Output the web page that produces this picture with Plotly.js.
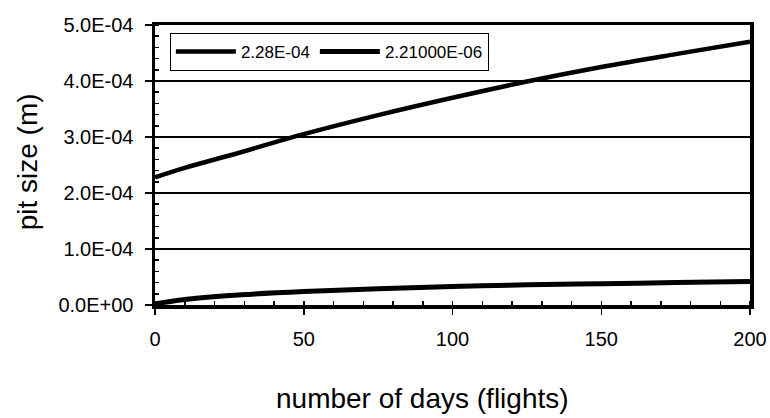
<!DOCTYPE html>
<html><head><meta charset="utf-8">
<script src="https://cdn.plot.ly/plotly-3.0.1.min.js"></script>
<style>html,body{margin:0;padding:0;background:#fff}</style>
</head><body>
<div id="chart" style="width:770px;height:418px"></div>
<script>
const days = [0, 10, 25, 50, 75, 100, 125, 150, 175, 200];
const pitUpper = [2.28e-4, 2.45e-4, 2.67e-4, 3.05e-4, 3.39e-4, 3.70e-4, 3.99e-4, 4.25e-4, 4.48e-4, 4.70e-4];
const pitLower = [2.21e-6, 1.00e-5, 1.70e-5, 2.40e-5, 2.90e-5, 3.30e-5, 3.60e-5, 3.80e-5, 4.00e-5, 4.20e-5];
const seriesNames = ["2.28E-04", "2.21000E-06"];
const yTickVals = [0, 1e-4, 2e-4, 3e-4, 4e-4, 5e-4];
const yTickText = ["0.0E+00", "1.0E-04", "2.0E-04", "3.0E-04", "4.0E-04", "5.0E-04"];
const xTickVals = [0, 50, 100, 150, 200];
const xTitle = "number of days (flights)";
const yTitle = "pit size (m)";

const font = "Liberation Sans, Arial, sans-serif";
const traces = [
  {x: days, y: pitUpper, name: seriesNames[0], mode: "lines", line: {color: "#000", width: 4.5, shape: "spline"}},
  {x: days, y: pitLower, name: seriesNames[1], mode: "lines", line: {color: "#000", width: 5, shape: "spline"}}
];
const layout = {
  width: 770, height: 418,
  margin: {l: 155, r: 20, t: 25, b: 113},
  paper_bgcolor: "#fff", plot_bgcolor: "#fff",
  font: {family: font, color: "#000"},
  showlegend: true,
  legend: {orientation: "h", x: 0.025, y: 0.972, xanchor: "left", yanchor: "top",
    bordercolor: "#000", borderwidth: 1, bgcolor: "#fff", font: {size: 17, family: font},
    itemwidth: 60, traceorder: "normal"},
  xaxis: {range: [0, 200], tickvals: xTickVals, ticks: "outside", ticklen: 6, tickwidth: 1.5, tickcolor: "#000",
    ticklabelstandoff: 7,
    showline: true, linewidth: 3.5, linecolor: "#000", mirror: true, showgrid: false, zeroline: false,
    tickfont: {size: 20, family: font},
    minor: {dtick: 10, ticks: "inside", ticklen: 4, tickcolor: "#000", showgrid: false}},
  yaxis: {range: [0, 5e-4], tickvals: yTickVals, ticktext: yTickText, ticks: "outside", ticklen: 7, tickwidth: 1.5, tickcolor: "#000",
    ticklabelstandoff: 7,
    showline: true, linewidth: 3.5, linecolor: "#000", mirror: true, showgrid: true, gridcolor: "#000", gridwidth: 1.2, zeroline: false,
    tickfont: {size: 20, family: font},
    minor: {dtick: 2e-5, ticks: "inside", ticklen: 4, tickcolor: "#000", showgrid: false}},
  annotations: [
    {text: xTitle, xref: "paper", yref: "paper", x: 0.449, y: -0.334, xanchor: "center", yanchor: "middle",
     showarrow: false, font: {size: 28, family: font, color: "#000"}},
    {text: yTitle, xref: "paper", yref: "paper", x: -0.214, y: 0.512, xanchor: "center", yanchor: "middle",
     textangle: -90, showarrow: false, font: {size: 28, family: font, color: "#000"}}
  ]
};
Plotly.newPlot("chart", traces, layout, {displayModeBar: false, staticPlot: true});
</script>
</body></html>
